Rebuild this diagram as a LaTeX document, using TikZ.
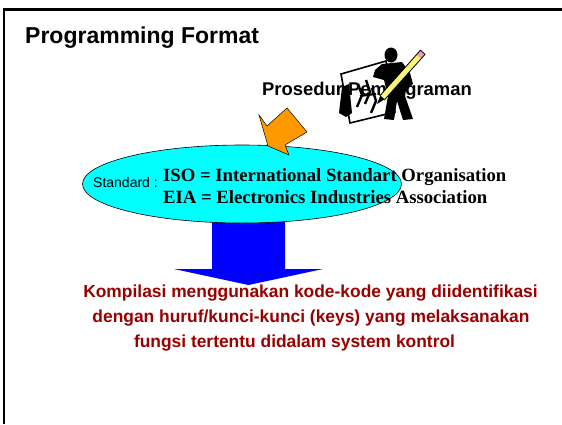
\documentclass[tikz,border=0pt]{standalone}
\usepackage{fontspec}
\setmainfont{Liberation Sans}
\newfontfamily\timesfont{Liberation Serif}
\usetikzlibrary{positioning, shapes.geometric}

\definecolor{kodered}{RGB}{153,0,0}
\definecolor{pointerorange}{RGB}{255,153,0}
\definecolor{ellipsecyan}{RGB}{0,255,255}
\definecolor{arrowblue}{RGB}{0,0,255}
\definecolor{pencilyellow}{RGB}{250,245,120}
\definecolor{eraserpink}{RGB}{240,160,180}

\begin{document}
\begin{tikzpicture}[
        x=1pt, y=-1pt,
        heading/.style={font=\bfseries\fontsize{23}{27}\selectfont, anchor=base west, inner sep=0pt},
        caption/.style={font=\bfseries\fontsize{18.4}{22}\selectfont, anchor=base, inner sep=0pt},
        stdlabel/.style={font=\fontsize{14}{17}\selectfont, anchor=base west, inner sep=0pt},
        stdline/.style={font=\timesfont\bfseries\fontsize{18.7}{22}\selectfont, anchor=base west, inner sep=0pt},
        kompline/.style={font=\bfseries\fontsize{17.4}{21}\selectfont, text=kodered, anchor=base, inner sep=0pt},
        blockarrow/.style={draw=black, line width=0.5pt},
    ]
    \useasboundingbox (0,0) rectangle (562,424);

    % Frame along the top and the left side
    \draw[line width=2.3pt] (3.8,424) -- (3.8,9.5) -- (562,9.5);

    % Heading
    \node[heading] (title) at (25,43.5) {Programming Format};

    % Caption under the clip art
    \node[caption] (prosedur) at (367,95) {Prosedur Pemrograman};

    % Clip art: board, drawing on it, man with the pencil
    \draw[line width=1.6pt] (341,74) -- (386,61) -- (395,112) -- (350,123) -- cycle;
    \fill (342,87) -- (349,84) -- (352,113) -- (346,117) -- (339,113) -- cycle;
    \foreach \a/\b/\c in {358/84/95, 366/80/92, 372/88/101}
        \draw[line width=2.4pt] (\a,\b) -- (\a+4,\c) -- (\a-1,\c+12);
    \draw[line width=2pt] (360,96) -- (376,94);
    \fill (391,55) ellipse (6.5 and 7.5);
    \fill (382,64) -- (402,62) -- (410,73) -- (413,84) -- (406,90) -- (405,96)
        -- (413,119) -- (403,120) -- (397,101) -- (394,120) -- (384,119)
        -- (388,96) -- (384,80) -- (373,77) -- (375,70) -- cycle;
    \draw[line width=7pt] (382,98) -- (423,52);
    \draw[line width=5pt, pencilyellow] (382,98) -- (419,56.5);
    \draw[line width=5pt, eraserpink] (419,56.5) -- (422.4,52.7);
    \fill (377,104) -- (380.3,95.5) -- (384.5,99.3) -- cycle;

    % Blue arrow down to the text block (behind the ellipse)
    \fill[arrowblue]
        (212,210) -- (285,210) -- (285,269) -- (323,269) -- (248.5,285)
        -- (174,269) -- (212,269) -- cycle;

    % Standards ellipse
    \node[ellipse, draw, fill=ellipsecyan, line width=0.6pt,
          minimum width=319pt, minimum height=78pt, inner sep=0pt] (std) at (242,184) {};
    \node[stdlabel] (stdname) at (93,187) {Standard :};
    \node[stdline] (iso) at (163,181) {ISO = International Standart Organisation};
    \node[stdline] (eia) at (163,203) {EIA = Electronics Industries Association};

    % Orange arrow pointing at the ellipse
    \filldraw[blockarrow, fill=pointerorange]
        (259,115) -- (267,126) -- (287,108) -- (307,132) -- (285,145)
        -- (289,155) -- (268,146) -- cycle;

    % Text block
    \node[kompline] (komp-1) at (310.5,297) {Kompilasi menggunakan kode-kode yang diidentifikasi};
    \node[kompline] (komp-2) at (311,322) {dengan huruf/kunci-kunci (keys) yang melaksanakan};
    \node[kompline] (komp-3) at (294.5,347) {fungsi tertentu didalam system kontrol};
\end{tikzpicture}
\end{document}
